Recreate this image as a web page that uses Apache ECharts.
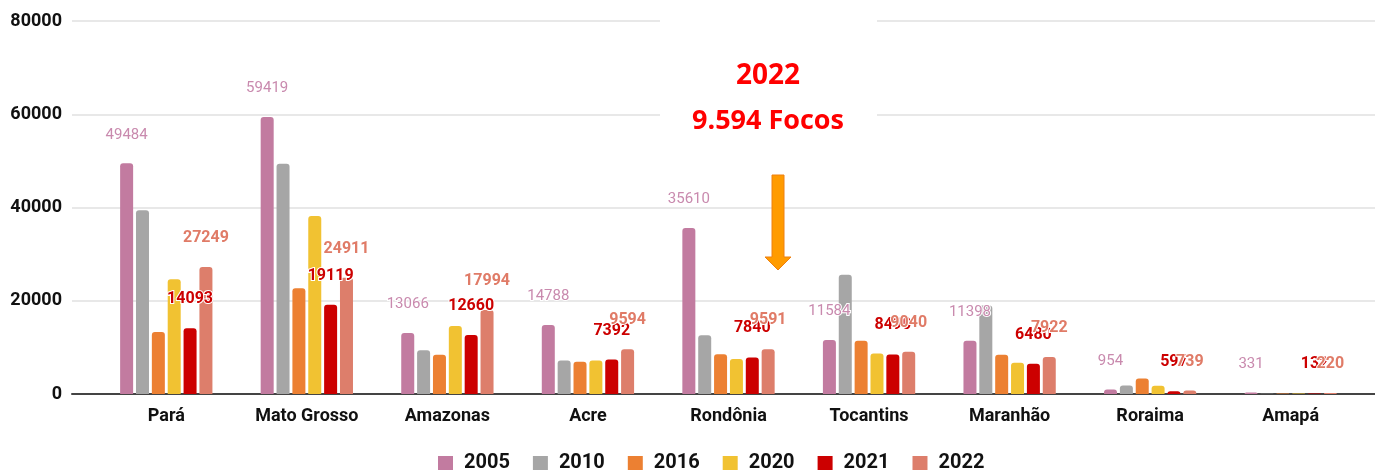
<!DOCTYPE html>
<html>
<head>
<meta charset="utf-8">
<script src="https://cdn.jsdelivr.net/npm/echarts@6/dist/echarts.min.js"></script>
<style>
  html, body { margin: 0; padding: 0; background: #fff; }
  #chart { width: 1375px; height: 470px; }
</style>
</head>
<body>
<div id="chart"></div>
<script>
// focos de queimadas por estado
const states = ['Pará', 'Mato Grosso', 'Amazonas', 'Acre', 'Rondônia', 'Tocantins', 'Maranhão', 'Roraima', 'Amapá']
const years = ['2005', '2010', '2016', '2020', '2021', '2022']
const yTicks = [0, 20000, 40000, 60000, 80000]

const f2005 = [49484, 59419, 13066, 14788, 35610, 11584, 11398, 954, 331]
const f2010 = [39400, 49400, 9400, 7200, 12600, 25600, 19000, 1800, 40]
const f2016 = [13300, 22700, 8400, 6900, 8500, 11400, 8400, 3300, 120]
const f2020 = [24600, 38200, 14600, 7200, 7500, 8700, 6700, 1750, 110]
const f2021 = [14093, 19119, 12660, 7392, 7840, 8490, 6480, 597, 132]
const f2022 = [27249, 24911, 17994, 9594, 9591, 9040, 7922, 739, 220]

const colors = ['#c27ba0', '#a6a6a6', '#ec8032', '#f1c232', '#cc0000', '#dd7e6b']

const baseLabel = {
  show: true,
  position: 'top',
  distance: 21,
  fontFamily: 'Roboto',
  textBorderColor: '#fff',
  textBorderWidth: 2
}
const labels = [
  Object.assign({}, baseLabel, { color: '#c98aae', fontSize: 15 }),
  { show: false },
  { show: false },
  { show: false },
  Object.assign({}, baseLabel, { color: '#cc0000', fontSize: 16, fontWeight: 'bold' }),
  Object.assign({}, baseLabel, { color: '#e07b67', fontSize: 16, fontWeight: 'bold' })
]

const allData = [f2005, f2010, f2016, f2020, f2021, f2022]
const series = years.map((y, i) => ({
  name: y,
  type: 'bar',
  xAxisIndex: 1,
  yAxisIndex: 1,
  data: allData[i],
  barWidth: 13,
  barGap: '22%',
  itemStyle: { color: colors[i], borderRadius: [3, 3, 0, 0] },
  label: labels[i]
}))

const chart = echarts.init(document.getElementById('chart'))
chart.setOption({
  animation: false,
  color: colors,
  grid: [
    { left: 72, right: 0, top: 21, bottom: 76 },
    { left: 96, right: 14, top: 21, bottom: 76 }
  ],
  legend: {
    data: years,
    left: 438,
    top: 453,
    padding: 0,
    icon: 'rect',
    itemWidth: 15,
    itemHeight: 14,
    itemGap: 23,
    textStyle: {
      fontFamily: 'Roboto',
      fontWeight: 'bold',
      fontSize: 20,
      color: '#111',
      padding: [0, 0, 0, 6]
    }
  },
  xAxis: [
    {
      gridIndex: 0,
      type: 'value',
      min: 0,
      max: 1,
      axisLine: { show: true, lineStyle: { color: '#444', width: 2 } },
      axisTick: { show: false },
      axisLabel: { show: false },
      splitLine: { show: false }
    },
    {
      gridIndex: 1,
      type: 'category',
      data: states,
      axisLine: { show: false },
      axisTick: { show: false },
      axisLabel: {
        margin: 13,
        fontFamily: 'Roboto',
        fontWeight: 'bold',
        fontSize: 18,
        color: '#111'
      }
    }
  ],
  yAxis: [
    {
      gridIndex: 0,
      type: 'value',
      min: yTicks[0],
      max: yTicks[yTicks.length - 1],
      interval: yTicks[1] - yTicks[0],
      axisLine: { show: false },
      axisTick: { show: false },
      axisLabel: {
        margin: 10,
        formatter: v => String(v),
        fontFamily: 'Roboto',
        fontWeight: 'bold',
        fontSize: 18,
        color: '#111'
      },
      splitLine: { lineStyle: { color: '#e8e8e8', width: 2 } }
    },
    {
      gridIndex: 1,
      type: 'value',
      min: yTicks[0],
      max: yTicks[yTicks.length - 1],
      show: false,
      splitLine: { show: false }
    }
  ],
  graphic: [
    {
      type: 'rect',
      z: 100,
      shape: { x: 660, y: 8, width: 217, height: 130 },
      style: { fill: '#fff' }
    },
    {
      type: 'text',
      z: 101,
      x: 768,
      y: 76,
      style: {
        text: '2022',
        fill: '#ff0000',
        font: 'bold 28px "Open Sans"',
        textAlign: 'center',
        textVerticalAlign: 'middle'
      }
    },
    {
      type: 'text',
      z: 101,
      x: 768,
      y: 121,
      style: {
        text: '9.594 Focos',
        fill: '#ff0000',
        font: 'bold 27px "Open Sans"',
        textAlign: 'center',
        textVerticalAlign: 'middle'
      }
    },
    {
      type: 'polygon',
      z: 101,
      shape: {
        points: [[772, 175], [784, 175], [784, 257], [791, 257], [778, 270], [765, 257], [772, 257]]
      },
      style: { fill: '#ff9b00', stroke: '#ee8010', lineWidth: 1 }
    }
  ],
  series: series
})
</script>
</body>
</html>
